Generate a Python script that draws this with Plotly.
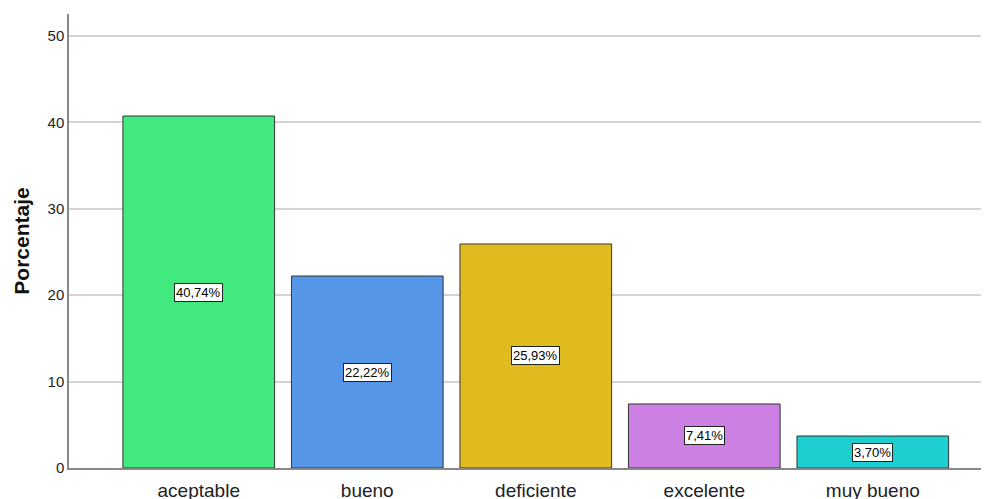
import plotly.graph_objects as go

categories = ["aceptable", "bueno", "deficiente", "excelente", "muy bueno"]
values = [40.74, 22.22, 25.93, 7.41, 3.70]
labels = ["40,74%", "22,22%", "25,93%", "7,41%", "3,70%"]
colors = ["#41E97E", "#5596E6", "#E0BB1F", "#CC80E4", "#1ECFCF"]
yticks = [0, 10, 20, 30, 40, 50]

fig = go.Figure()
fig.add_trace(go.Bar(
    x=categories, y=values,
    marker=dict(color=colors, line=dict(color="#333333", width=1)),
    width=0.9, hoverinfo="skip"))

for c, v, t in zip(categories, values, labels):
    fig.add_annotation(x=c, y=v / 2, text=t, showarrow=False,
                       bgcolor="white", bordercolor="#222222", borderwidth=1,
                       borderpad=1, font=dict(family="Arial, Liberation Sans", size=13, color="black"))

fig.update_layout(
    width=989, height=491,
    margin=dict(l=61, r=0, t=6, b=31, autoexpand=False),
    plot_bgcolor="white", paper_bgcolor="white",
    showlegend=False,
    font=dict(family="Arial, Liberation Sans", color="#222222"),
    xaxis=dict(range=[-0.77, 4.737], showgrid=False, showline=True,
               linecolor="#888888", linewidth=1.5, ticks="",
               ticklabelstandoff=4,
               tickfont=dict(size=19, color="#222222")),
    yaxis=dict(range=[0, 52.55], tickvals=yticks, showgrid=True,
               gridcolor="#D4D4D4", gridwidth=1.5, showline=True,
               linecolor="#888888", linewidth=1.5, ticks="", zeroline=False,
               tickfont=dict(size=15, color="#222222"),
               title=dict(text="<b>Porcentaje</b>", font=dict(size=21, color="#111111"), standoff=12)),
)

fig.write_html("out.html")
